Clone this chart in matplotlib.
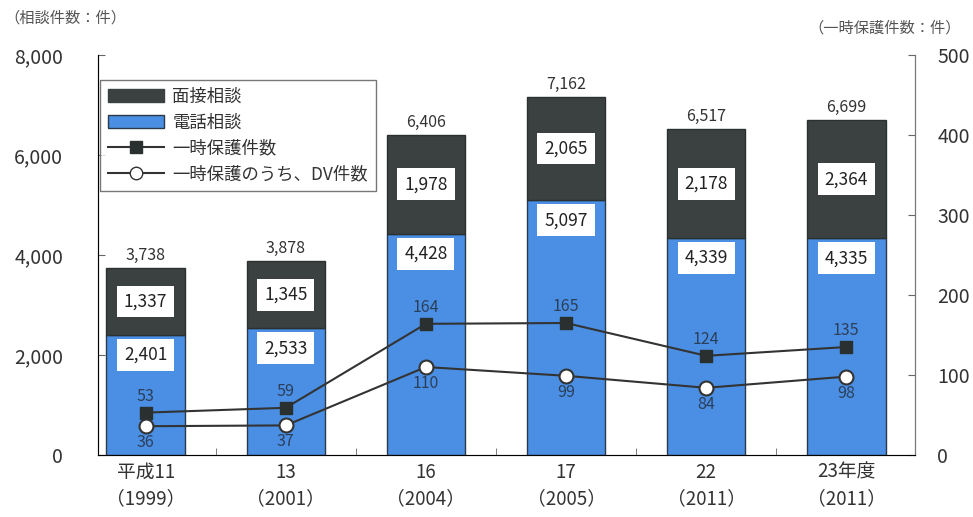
import matplotlib
matplotlib.use("Agg")
import matplotlib.pyplot as plt
import numpy as np
from matplotlib.patches import Patch
from matplotlib.lines import Line2D

plt.rcParams['font.family'] = ['Noto Sans CJK JP', 'DejaVu Sans']

# データ
categories = ["平成11\n（1999）", "13\n（2001）", "16\n（2004）", "17\n（2005）", "22\n（2011）", "23年度\n（2011）"]
phone = [2401, 2533, 4428, 5097, 4339, 4335]      # 電話相談
interview = [1337, 1345, 1978, 2065, 2178, 2364]  # 面接相談
totals = [3738, 3878, 6406, 7162, 6517, 6699]
shelter = [53, 59, 164, 165, 124, 135]            # 一時保護件数
shelter_dv = [36, 37, 110, 99, 84, 98]            # 一時保護のうち、DV件数

blue = "#4a8fe3"
dark = "#3b4141"
txt = "#333333"

fig = plt.figure(figsize=(9.73, 5.17), dpi=100)
ax = fig.add_axes([0.1007, 0.1199, 0.8397, 0.7737])
x = np.arange(len(categories))
w = 0.56

ax.bar(x, phone, w, color=blue, edgecolor="#2b3a4a", linewidth=1.0, zorder=2)
ax.bar(x, interview, w, bottom=phone, color=dark, edgecolor="#2b3030", linewidth=1.0, zorder=2)

box = dict(boxstyle="square,pad=0.4", fc="white", ec="none")
for i in range(len(x)):
    # 電話相談の数値は棒の上端から少し下に置く
    ax.text(x[i], phone[i] - 400, f"{phone[i]:,}",
            ha="center", va="center", fontsize=12.5, color="#222222", bbox=box, zorder=5)
    ax.text(x[i], phone[i] + interview[i] / 2, f"{interview[i]:,}",
            ha="center", va="center", fontsize=12.5, color="#222222", bbox=box, zorder=5)
    ax.text(x[i], totals[i] + 80, f"{totals[i]:,}", ha="center", va="bottom",
            fontsize=11.5, color=txt)

ax.set_xlim(-0.34, 5.49)
ax.set_ylim(0, 8000)
ax.set_yticks([0, 2000, 4000, 6000, 8000])
ax.set_yticklabels([f"{v:,}" for v in [0, 2000, 4000, 6000, 8000]], fontsize=14, color=txt)
ax.set_xticks(x)
ax.set_xticklabels(categories, fontsize=13.5, color=txt, linespacing=1.35)
ax.set_xticks(x[:-1] + 0.5, minor=True)
ax.tick_params(axis="x", which="major", length=0, pad=5)
ax.tick_params(axis="x", which="minor", direction="in", length=5, color="#666666")
ax.tick_params(axis="y", direction="in", length=5, color="#666666", pad=25)
ax.spines["top"].set_visible(False)
for s in ["left", "bottom", "right"]:
    ax.spines[s].set_color("#777777")

ax2 = ax.twinx()
ax2.set_ylim(0, 500)
ax2.set_yticks([0, 100, 200, 300, 400, 500])
ax2.set_yticklabels(["0", "100", "200", "300", "400", "500"], fontsize=14, color=txt)
ax2.tick_params(axis="y", direction="in", length=5, color="#666666", pad=16)
ax2.spines["top"].set_visible(False)
ax2.spines["right"].set_color("#777777")

ax2.plot(x, shelter, color="#333333", lw=1.5, marker="s", ms=9,
         mfc="#2a2f2f", mec="#2a2f2f", zorder=4)
ax2.plot(x, shelter_dv, color="#333333", lw=1.5, marker="o", ms=10,
         mfc="white", mec="#333333", mew=1.5, zorder=4)
for i in range(len(x)):
    ax2.text(x[i], shelter[i] + 10, str(shelter[i]), ha="center", va="bottom",
             fontsize=11.5, color="#2c3f5a")
    ax2.text(x[i], shelter_dv[i] - 10, str(shelter_dv[i]), ha="center", va="top",
             fontsize=11.5, color="#2c3f5a")

handles = [Patch(fc=dark, ec=dark), Patch(fc=blue, ec="#2b3a4a"),
           Line2D([0], [0], color="#333333", lw=1.5, marker="s", ms=9, mfc="#2a2f2f", mec="#2a2f2f"),
           Line2D([0], [0], color="#333333", lw=1.5, marker="o", ms=9, mfc="white", mec="#333333")]
labels = ["面接相談", "電話相談", "一時保護件数", "一時保護のうち、DV件数"]
leg = ax2.legend(handles, labels, loc="upper left", bbox_to_anchor=(0.003, 0.9375),
                 borderaxespad=0, fontsize=12.5, frameon=True, fancybox=False,
                 edgecolor="#555555", handlelength=3.2, handleheight=0.8,
                 handletextpad=0.5, labelspacing=0.45, borderpad=0.45)
leg.get_frame().set_linewidth(1.0)
for t in leg.get_texts():
    t.set_color(txt)

fig.text(0.005, 0.965, "（相談件数：件）", fontsize=11, color="#555555", va="center")
fig.text(0.988, 0.945, "（一時保護件数：件）", fontsize=11, color="#555555", va="center", ha="right")

fig.savefig("out.png", dpi=100)
